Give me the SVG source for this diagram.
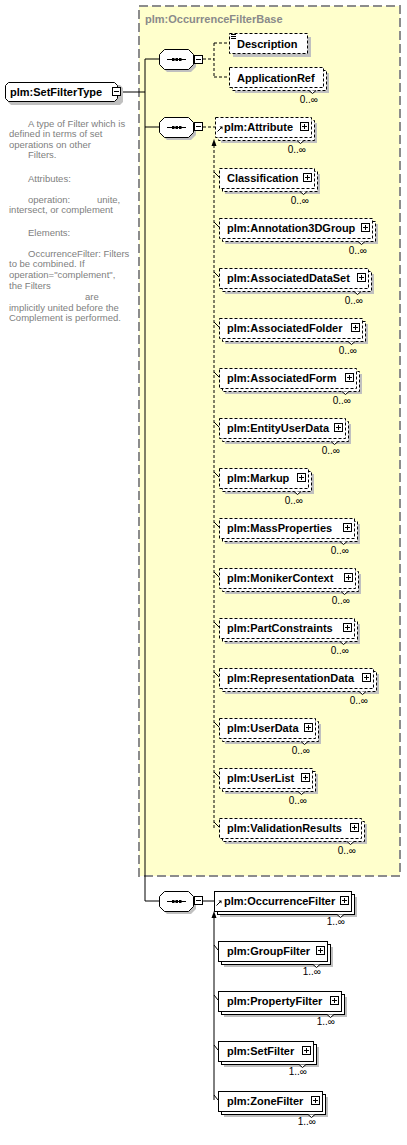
<svg xmlns="http://www.w3.org/2000/svg" xmlns:xlink="http://www.w3.org/1999/xlink" width="407" height="1145" viewBox="0 0 407 1145">
<style>
.lbl{font-family:"Liberation Sans",Arial,sans-serif;font-weight:bold;font-size:11px;fill:#000}
.card{font-family:"Liberation Sans",Arial,sans-serif;font-size:10px;fill:#000;text-anchor:end}
.doc{font-family:"Liberation Sans",Arial,sans-serif;font-size:9.5px;fill:#808080}
.title{font-family:"Liberation Sans",Arial,sans-serif;font-weight:bold;font-size:11px;fill:#8a8a8a}
.shd{fill:#c0c0c0;stroke:none}
.fr{fill:#fff;stroke:#000;stroke-width:1}
.d{stroke-dasharray:3,2}
.ln{fill:none;stroke:#000;stroke-width:1}
.dl{fill:none;stroke:#000;stroke-width:1;stroke-dasharray:3,2}
.notch{fill:#fff;stroke:#000;stroke-width:1}
</style>
<defs>
<g id="plus"><rect x="0.5" y="0.5" width="8" height="8" fill="#fff" stroke="#000"/><path d="M2 4.5h5M4.5 2v5" stroke="#000" fill="none"/></g>
<g id="minus"><rect x="0.5" y="0.5" width="8" height="8" fill="#fff" stroke="#000"/><path d="M2 4.5h5" stroke="#000" fill="none"/></g>
<g id="seq">
<path d="M8,3 H32 L37,8 V18 L32,23 H8 L3,18 V8 Z" class="shd"/>
<path d="M5.5,0.5 H29.5 L34.5,5.5 V15.5 L29.5,20.5 H5.5 L0.5,15.5 V5.5 Z" fill="#fff" stroke="#000"/>
<path d="M8,10.5 H27" stroke="#000" fill="none"/>
<rect x="13" y="9" width="2.5" height="3" fill="#000"/><rect x="16.5" y="9" width="2.5" height="3" fill="#000"/><rect x="20" y="9" width="2.5" height="3" fill="#000"/>
</g>
<g id="subst"><path d="M0.5,6.5 L4.5,2.5" stroke="#000" fill="none"/><path d="M2.5,1.5 H5.5 V4.5 Z" fill="#000"/></g>
<path id="nt" d="M-3.5,0 L0,3 L3.5,0" fill="#fff" stroke="#000"/>
</defs>

<rect x="139" y="6" width="261" height="870" fill="#ffffcc" stroke="#8c8c8c" stroke-width="2" stroke-dasharray="9,4"/>
<text class="title" x="145" y="23">plm:OccurrenceFilterBase</text>

<g id="connectors">
<path class="ln" d="M121,92 H145 M145,59 V901 M145,59 H159 M145,127 H159 M145,901 H159"/>
<path class="dl" d="M203,59 H214 M214,43 V77 M214,43 H229 M214,77 H229"/>
<path class="dl" d="M203,127 H215"/>
<path class="dl" d="M214,145 V828"/>
<path d="M214,139 L211.5,146 H216.5 Z" fill="#000"/>
<path class="ln" d="M214,172 L219,177 M214,222 L219,227 M214,272 L219,277 M214,322 L219,327 M214,372 L219,377 M214,422 L219,427 M214,472 L219,477 M214,522 L219,527 M214,572 L219,577 M214,622 L219,627 M214,672 L219,677 M214,722 L219,727 M214,772 L219,777 M214,822 L219,827"/>
<path class="ln" d="M203,901 H214"/>
<path class="ln" d="M214,917 V1100"/>
<path d="M214,911 L211.5,918 H216.5 Z" fill="#000"/>
<path class="ln" d="M214,945 L218,950 M214,995 L218,1000 M214,1045 L218,1050 M214,1095 L218,1100"/>
</g>

<g id="root">
<path d="M11,85 H120 L123,88 V102 L120,105 H11 L8,102 V88 Z" class="shd"/>
<path d="M8.5,82.5 H114.5 L117.5,85.5 V98.5 L114.5,101.5 H8.5 L5.5,98.5 V85.5 Z" fill="#fff" stroke="#000"/>
<text class="lbl" x="10" y="96">plm:SetFilterType</text>
<use xlink:href="#minus" x="112" y="87"/>
</g>

<g id="root-doc">
<text class="doc" x="28" y="127">A type of Filter which is</text>
<text class="doc" x="9" y="137">defined in terms of set</text>
<text class="doc" x="9" y="148">operations on other</text>
<text class="doc" x="28" y="158">Filters.</text>
<text class="doc" x="28" y="182">Attributes:</text>
<text class="doc" x="28" y="203">operation:</text>
<text class="doc" x="97" y="203">unite,</text>
<text class="doc" x="9" y="213">intersect, or complement</text>
<text class="doc" x="28" y="236">Elements:</text>
<text class="doc" x="28" y="257">OccurrenceFilter:  Filters</text>
<text class="doc" x="9" y="267">to be combined. If</text>
<text class="doc" x="9" y="278">operation="complement",</text>
<text class="doc" x="9" y="289">the Filters</text>
<text class="doc" x="85" y="300">are</text>
<text class="doc" x="9" y="311">implicitly united before the</text>
<text class="doc" x="9" y="321">Complement is performed.</text>
</g>

<g id="seq1"><use xlink:href="#seq" x="159" y="49"/><use xlink:href="#minus" x="194" y="55"/></g>
<g id="seq2"><use xlink:href="#seq" x="159" y="117"/><use xlink:href="#minus" x="194" y="122"/></g>
<g id="seq3"><use xlink:href="#seq" x="159" y="891"/><use xlink:href="#minus" x="194" y="896"/></g>

<g id="n-description">
<rect class="shd" x="233" y="37" width="78" height="20"/>
<rect class="fr d" x="229.5" y="33.5" width="78" height="20"/>
<path d="M231,34.5 H236 M231,36.5 H236 M231,38.5 H236" stroke="#000" fill="none"/>
<text class="lbl" x="237" y="48">Description</text>
</g>

<g id="n-applicationref">
<rect class="shd" x="235" y="73" width="94" height="20"/>
<rect class="fr d" x="232.5" y="70.5" width="94" height="20"/>
<rect class="fr d" x="229.5" y="67.5" width="94" height="20"/>
<text class="lbl" x="237" y="82">ApplicationRef</text>
<use xlink:href="#nt" x="312.5" y="90.5"/>
<text class="card" x="318" y="103">0..∞</text>
</g>

<g id="n-attribute">
<rect class="shd" x="221" y="123" width="96" height="20"/>
<rect class="fr d" x="218.5" y="120.5" width="96" height="20"/>
<rect class="fr d" x="215.5" y="117.5" width="96" height="20"/>
<use xlink:href="#subst" x="217" y="125"/>
<text class="lbl" x="224" y="131">plm:Attribute</text>
<use xlink:href="#plus" x="300" y="122"/>
<use xlink:href="#nt" x="300.5" y="140.5"/>
<text class="card" x="306" y="153">0..∞</text>
</g>

<g id="n-classification">
<rect class="shd" x="225" y="174" width="95" height="20"/>
<rect class="fr d" x="222.5" y="171.5" width="95" height="20"/>
<rect class="fr d" x="219.5" y="168.5" width="95" height="20"/>
<text class="lbl" x="227" y="182">Classification</text>
<use xlink:href="#plus" x="303" y="173"/>
<use xlink:href="#nt" x="303.5" y="191.5"/>
<text class="card" x="309" y="204">0..∞</text>
</g>

<g id="n-annotation3dgroup">
<rect class="shd" x="225" y="224" width="153" height="20"/>
<rect class="fr d" x="222.5" y="221.5" width="153" height="20"/>
<rect class="fr d" x="219.5" y="218.5" width="153" height="20"/>
<text class="lbl" x="227" y="232">plm:Annotation3DGroup</text>
<use xlink:href="#plus" x="361" y="223"/>
<use xlink:href="#nt" x="361.5" y="241.5"/>
<text class="card" x="367" y="254">0..∞</text>
</g>

<g id="n-associateddataset">
<rect class="shd" x="225" y="274" width="149" height="20"/>
<rect class="fr d" x="222.5" y="271.5" width="149" height="20"/>
<rect class="fr d" x="219.5" y="268.5" width="149" height="20"/>
<text class="lbl" x="227" y="282">plm:AssociatedDataSet</text>
<use xlink:href="#plus" x="357" y="273"/>
<use xlink:href="#nt" x="357.5" y="291.5"/>
<text class="card" x="363" y="304">0..∞</text>
</g>

<g id="n-associatedfolder">
<rect class="shd" x="225" y="324" width="143" height="20"/>
<rect class="fr d" x="222.5" y="321.5" width="143" height="20"/>
<rect class="fr d" x="219.5" y="318.5" width="143" height="20"/>
<text class="lbl" x="227" y="332">plm:AssociatedFolder</text>
<use xlink:href="#plus" x="351" y="323"/>
<use xlink:href="#nt" x="351.5" y="341.5"/>
<text class="card" x="357" y="354">0..∞</text>
</g>

<g id="n-associatedform">
<rect class="shd" x="225" y="374" width="137" height="20"/>
<rect class="fr d" x="222.5" y="371.5" width="137" height="20"/>
<rect class="fr d" x="219.5" y="368.5" width="137" height="20"/>
<text class="lbl" x="227" y="382">plm:AssociatedForm</text>
<use xlink:href="#plus" x="345" y="373"/>
<use xlink:href="#nt" x="345.5" y="391.5"/>
<text class="card" x="351" y="404">0..∞</text>
</g>

<g id="n-entityuserdata">
<rect class="shd" x="225" y="424" width="126" height="20"/>
<rect class="fr d" x="222.5" y="421.5" width="126" height="20"/>
<rect class="fr d" x="219.5" y="418.5" width="126" height="20"/>
<text class="lbl" x="227" y="432">plm:EntityUserData</text>
<use xlink:href="#plus" x="334" y="423"/>
<use xlink:href="#nt" x="334.5" y="441.5"/>
<text class="card" x="340" y="454">0..∞</text>
</g>

<g id="n-markup">
<rect class="shd" x="225" y="474" width="89" height="20"/>
<rect class="fr d" x="222.5" y="471.5" width="89" height="20"/>
<rect class="fr d" x="219.5" y="468.5" width="89" height="20"/>
<text class="lbl" x="227" y="482">plm:Markup</text>
<use xlink:href="#plus" x="297" y="473"/>
<use xlink:href="#nt" x="297.5" y="491.5"/>
<text class="card" x="303" y="504">0..∞</text>
</g>

<g id="n-massproperties">
<rect class="shd" x="225" y="524" width="135" height="20"/>
<rect class="fr d" x="222.5" y="521.5" width="135" height="20"/>
<rect class="fr d" x="219.5" y="518.5" width="135" height="20"/>
<text class="lbl" x="227" y="532">plm:MassProperties</text>
<use xlink:href="#plus" x="343" y="523"/>
<use xlink:href="#nt" x="343.5" y="541.5"/>
<text class="card" x="349" y="554">0..∞</text>
</g>

<g id="n-monikercontext">
<rect class="shd" x="225" y="574" width="136" height="20"/>
<rect class="fr d" x="222.5" y="571.5" width="136" height="20"/>
<rect class="fr d" x="219.5" y="568.5" width="136" height="20"/>
<text class="lbl" x="227" y="582">plm:MonikerContext</text>
<use xlink:href="#plus" x="344" y="573"/>
<use xlink:href="#nt" x="344.5" y="591.5"/>
<text class="card" x="350" y="604">0..∞</text>
</g>

<g id="n-partconstraints">
<rect class="shd" x="225" y="624" width="135" height="20"/>
<rect class="fr d" x="222.5" y="621.5" width="135" height="20"/>
<rect class="fr d" x="219.5" y="618.5" width="135" height="20"/>
<text class="lbl" x="227" y="632">plm:PartConstraints</text>
<use xlink:href="#plus" x="343" y="623"/>
<use xlink:href="#nt" x="343.5" y="641.5"/>
<text class="card" x="349" y="654">0..∞</text>
</g>

<g id="n-representationdata">
<rect class="shd" x="225" y="674" width="154" height="20"/>
<rect class="fr d" x="222.5" y="671.5" width="154" height="20"/>
<rect class="fr d" x="219.5" y="668.5" width="154" height="20"/>
<text class="lbl" x="227" y="682">plm:RepresentationData</text>
<use xlink:href="#plus" x="362" y="673"/>
<use xlink:href="#nt" x="362.5" y="691.5"/>
<text class="card" x="368" y="704">0..∞</text>
</g>

<g id="n-userdata">
<rect class="shd" x="225" y="724" width="96" height="20"/>
<rect class="fr d" x="222.5" y="721.5" width="96" height="20"/>
<rect class="fr d" x="219.5" y="718.5" width="96" height="20"/>
<text class="lbl" x="227" y="732">plm:UserData</text>
<use xlink:href="#plus" x="304" y="723"/>
<use xlink:href="#nt" x="304.5" y="741.5"/>
<text class="card" x="310" y="754">0..∞</text>
</g>

<g id="n-userlist">
<rect class="shd" x="225" y="774" width="93" height="20"/>
<rect class="fr d" x="222.5" y="771.5" width="93" height="20"/>
<rect class="fr d" x="219.5" y="768.5" width="93" height="20"/>
<text class="lbl" x="227" y="782">plm:UserList</text>
<use xlink:href="#plus" x="301" y="773"/>
<use xlink:href="#nt" x="301.5" y="791.5"/>
<text class="card" x="307" y="804">0..∞</text>
</g>

<g id="n-validationresults">
<rect class="shd" x="225" y="824" width="142" height="20"/>
<rect class="fr d" x="222.5" y="821.5" width="142" height="20"/>
<rect class="fr d" x="219.5" y="818.5" width="142" height="20"/>
<text class="lbl" x="227" y="832">plm:ValidationResults</text>
<use xlink:href="#plus" x="350" y="823"/>
<use xlink:href="#nt" x="350.5" y="841.5"/>
<text class="card" x="356" y="854">0..∞</text>
</g>

<g id="n-occurrencefilter">
<rect class="shd" x="220" y="897" width="137" height="20"/>
<rect class="fr" x="217.5" y="894.5" width="137" height="20"/>
<rect class="fr" x="214.5" y="891.5" width="137" height="20"/>
<use xlink:href="#subst" x="216" y="899"/>
<text class="lbl" x="224" y="905">plm:OccurrenceFilter</text>
<use xlink:href="#plus" x="340" y="896"/>
<use xlink:href="#nt" x="340.5" y="914.5"/>
<text class="card" x="345" y="925">1..∞</text>
</g>

<g id="n-groupfilter">
<rect class="shd" x="224" y="947" width="109" height="20"/>
<rect class="fr" x="221.5" y="944.5" width="109" height="20"/>
<rect class="fr" x="218.5" y="941.5" width="109" height="20"/>
<text class="lbl" x="227" y="955">plm:GroupFilter</text>
<use xlink:href="#plus" x="316" y="946"/>
<use xlink:href="#nt" x="316.5" y="964.5"/>
<text class="card" x="321" y="975">1..∞</text>
</g>

<g id="n-propertyfilter">
<rect class="shd" x="224" y="997" width="123" height="20"/>
<rect class="fr" x="221.5" y="994.5" width="123" height="20"/>
<rect class="fr" x="218.5" y="991.5" width="123" height="20"/>
<text class="lbl" x="227" y="1005">plm:PropertyFilter</text>
<use xlink:href="#plus" x="330" y="996"/>
<use xlink:href="#nt" x="330.5" y="1014.5"/>
<text class="card" x="335" y="1025">1..∞</text>
</g>

<g id="n-setfilter">
<rect class="shd" x="224" y="1047" width="95" height="20"/>
<rect class="fr" x="221.5" y="1044.5" width="95" height="20"/>
<rect class="fr" x="218.5" y="1041.5" width="95" height="20"/>
<text class="lbl" x="227" y="1055">plm:SetFilter</text>
<use xlink:href="#plus" x="302" y="1046"/>
<use xlink:href="#nt" x="302.5" y="1064.5"/>
<text class="card" x="307" y="1075">1..∞</text>
</g>

<g id="n-zonefilter">
<rect class="shd" x="224" y="1097" width="104" height="20"/>
<rect class="fr" x="221.5" y="1094.5" width="104" height="20"/>
<rect class="fr" x="218.5" y="1091.5" width="104" height="20"/>
<text class="lbl" x="227" y="1105">plm:ZoneFilter</text>
<use xlink:href="#plus" x="311" y="1096"/>
<use xlink:href="#nt" x="311.5" y="1114.5"/>
<text class="card" x="316" y="1125">1..∞</text>
</g>
</svg>
